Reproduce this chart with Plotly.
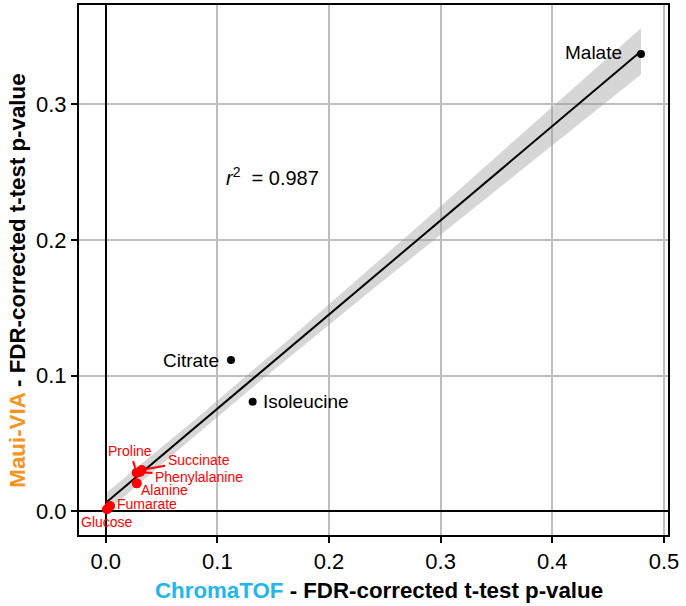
import numpy as np
import plotly.graph_objects as go

# metabolites: ChromaTOF p (x) vs Maui-VIA p (y)
black_names = ["Malate", "Citrate", "Isoleucine"]
black_x = [0.4794, 0.1122, 0.1316]
black_y = [0.3373, 0.1114, 0.0807]

red_names = ["Proline", "Succinate", "Phenylalanine", "Alanine", "Fumarate", "Glucose"]
red_x = [0.0278, 0.0322, 0.0307, 0.0278, 0.0039, 0.0012]
red_y = [0.0283, 0.0303, 0.0288, 0.0204, 0.0037, 0.0013]

r2_label = "0.987"
x_ticks = [0.0, 0.1, 0.2, 0.3, 0.4, 0.5]
y_ticks = [0.0, 0.1, 0.2, 0.3]

# linear fit + confidence ribbon
xs = np.array(black_x + red_x)
ys = np.array(black_y + red_y)
slope, icpt = np.polyfit(xs, ys, 1)
n = len(xs)
resid = ys - (slope * xs + icpt)
s = np.sqrt((resid ** 2).sum() / (n - 2))
sxx = ((xs - xs.mean()) ** 2).sum()
ci_mult = 1.4

fx = np.linspace(xs.min(), xs.max(), 60)
fy = slope * fx + icpt
se = s * np.sqrt(1 / n + (fx - xs.mean()) ** 2 / sxx)
lo = fy - ci_mult * se
hi = fy + ci_mult * se

fig = go.Figure()

fig.add_trace(go.Scatter(
    x=np.concatenate([fx, fx[::-1]]), y=np.concatenate([hi, lo[::-1]]),
    fill="toself", fillcolor="rgba(153,153,153,0.4)", line=dict(width=0),
    mode="lines", hoverinfo="skip", showlegend=False,
))
fig.add_trace(go.Scatter(
    x=fx, y=fy, mode="lines", line=dict(color="black", width=2), showlegend=False,
))
fig.add_trace(go.Scatter(
    x=black_x, y=black_y, mode="markers", marker=dict(color="black", size=8), showlegend=False,
))
fig.add_trace(go.Scatter(
    x=red_x, y=red_y, mode="markers", marker=dict(color="#FF0000", size=10), showlegend=False,
))

FONT = "Liberation Sans, Arial"
lab_font = dict(family=FONT, size=19, color="black")
red_font = dict(family=FONT, size=14, color="#FF0000")

# black labels
fig.add_annotation(x=black_x[0], y=black_y[0], text=black_names[0], showarrow=False,
                   xanchor="right", xshift=-17, yshift=1, font=lab_font)
fig.add_annotation(x=black_x[1], y=black_y[1], text=black_names[1], showarrow=False,
                   xanchor="right", xshift=-10, yshift=0, font=lab_font)
fig.add_annotation(x=black_x[2], y=black_y[2], text=black_names[2], showarrow=False,
                   xanchor="left", xshift=8, yshift=0, font=lab_font)

# red labels, some with leader lines
arrow_kw = dict(showarrow=True, arrowhead=0, arrowwidth=2, arrowcolor="#FF0000",
                standoff=5, startstandoff=1)
fig.add_annotation(x=red_x[0], y=red_y[0], text=red_names[0], ax=-7, ay=-22,
                   font=red_font, **arrow_kw)
fig.add_annotation(x=red_x[1], y=red_y[1], text=red_names[1], ax=57, ay=-10,
                   font=red_font, **arrow_kw)
fig.add_annotation(x=red_x[2], y=red_y[2], text=red_names[2], ax=59, ay=5,
                   font=red_font, **arrow_kw)
fig.add_annotation(x=red_x[3], y=red_y[3], text=red_names[3], showarrow=False,
                   xanchor="left", xshift=2, yshift=-7, font=red_font)
fig.add_annotation(x=red_x[4], y=red_y[4], text=red_names[4], showarrow=False,
                   xanchor="left", xshift=5, yshift=2, font=red_font)
fig.add_annotation(x=red_x[5], y=red_y[5], text=red_names[5], showarrow=False,
                   xanchor="center", xshift=0, yshift=-13, font=red_font)

fig.add_annotation(x=0.106, y=0.247, xanchor="left", showarrow=False,
                   text="<i>r</i><sup>2</sup>  = " + r2_label,
                   font=dict(family=FONT, size=20, color="black"))

# axis titles as paper annotations (placed like the original, slightly off-centre)
title_font = dict(family=FONT, size=22.3, color="black")
fig.add_annotation(
    xref="paper", yref="paper", x=0.5085, y=-0.104, xanchor="center", yanchor="middle",
    showarrow=False, font=title_font,
    text="<b><span style='color:#22B5EE'>ChromaTOF</span> - FDR-corrected t-test p-value</b>",
)
fig.add_annotation(
    xref="paper", yref="paper", x=-0.1044, y=0.479, xanchor="center", yanchor="middle",
    showarrow=False, font=title_font, textangle=-90,
    text="<b><span style='color:#F7931E'>Maui-VIA</span> - FDR-corrected t-test p-value</b>",
)

axis_common = dict(
    showline=True, mirror=True, linecolor="black", linewidth=2,
    showgrid=True, gridcolor="#BEBEBE", gridwidth=1.5,
    zeroline=True, zerolinecolor="black", zerolinewidth=2,
    ticks="outside", ticklen=6, tickwidth=1.5, tickcolor="black",
    tickformat=".1f", automargin=False,
    tickfont=dict(family=FONT, size=22, color="black"),
)

fig.update_xaxes(range=[-0.0239, 0.5036], tickvals=x_ticks, **axis_common)
fig.update_yaxes(range=[-0.0177, 0.3734], tickvals=y_ticks, **axis_common)

fig.update_layout(
    width=686, height=606,
    margin=dict(l=79, r=18, t=5, b=71),
    plot_bgcolor="white", paper_bgcolor="white",
    showlegend=False,
)

fig.write_html("out.html", config={"displayModeBar": False},
               post_script="document.body.style.margin='0px';")
